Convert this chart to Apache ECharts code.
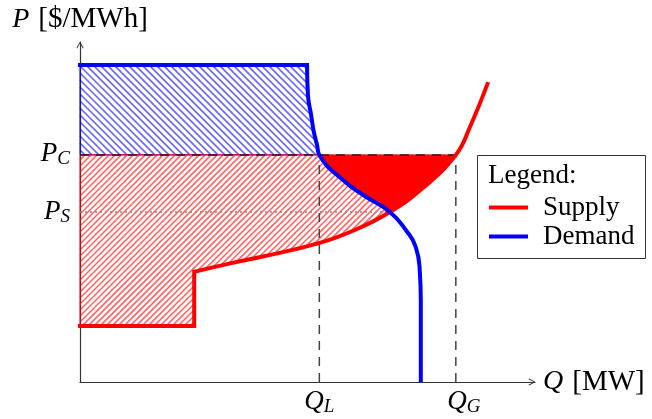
<!DOCTYPE html>
<html><head><meta charset="utf-8">
<script src="https://cdn.jsdelivr.net/npm/echarts@6/dist/echarts.min.js"></script>
<style>html,body{margin:0;padding:0;background:#fff}#c{width:652px;height:419px}</style>
</head><body><div id="c"></div>
<script>
// ---- data (Q in MW units of the plot, P in $/MWh units of the plot) ----
const demandFlatQ = [0, 49.9];
const demandFlatP = [93.2, 93.2];
const demandQ = [49.9, 50.1, 50.8, 51.4, 52.1, 52.6, 57.8, 62.6, 68.1, 71.6, 73.8, 74.7, 74.9, 74.9];
const demandP = [93.2, 84.4, 78.5, 73.5, 69.7, 66.8, 59.4, 54.7, 50.0, 44.7, 39.7, 32.1, 24.1, 0];
const supplyStepQ = [0, 25.1, 25.1];
const supplyStepP = [16.5, 16.5, 32.4];
const supplyQ = [25.1, 33.0, 40.2, 52.7, 60.4, 68.1, 75.4, 82.6, 85.7, 89.7];
const supplyP = [32.4, 34.9, 36.9, 40.9, 44.7, 50.0, 57.1, 66.8, 75.0, 88.2];
const QL = 52.6, QG = 82.6, PC = 66.8, PS = 50.0, QX = 68.1;
const xTickValues = [QL, QG];
const xTickSubs = ['L', 'G'];
const yTickValues = [PS, PC];
const yTickSubs = ['S', 'C'];
const seriesNames = ['Supply', 'Demand'];

const FONT = 'Liberation Serif';
const zip = (q, p) => q.map((v, i) => [v, p[i]]);
const demandPts = zip(demandQ, demandP);
const supplyPts = zip(supplyQ, supplyP);
const supplyStepPts = zip(supplyStepQ, supplyStepP);

const blueRegion = [[0, PC], [demandFlatQ[0], demandFlatP[0]], ...demandPts.filter(d => d[1] >= PC)];
const redHatchRegion = [[0, PC], ...demandPts.filter(d => d[1] <= PC && d[1] >= PS),
  ...supplyPts.filter(d => d[1] <= PS).reverse(), ...supplyStepPts.slice().reverse().slice(1)];
const redSolidRegion = [...demandPts.filter(d => d[1] <= PC && d[1] >= PS),
  ...supplyPts.filter(d => d[1] >= PS && d[1] <= PC)];

// diagonal hatch segments clipped to a polygon given in pixel coordinates
function hatchSegs(poly, spacing, dir) {
  const f = dir === '/' ? (p => p[0] + p[1]) : (p => p[0] - p[1]);
  const vals = poly.map(f);
  const lo = Math.min(...vals), hi = Math.max(...vals);
  const segs = [];
  for (let c = Math.ceil(lo / spacing) * spacing; c <= hi; c += spacing) {
    const xs = [];
    for (let i = 0; i < poly.length; i++) {
      const a = poly[i], b = poly[(i + 1) % poly.length];
      const fa = f(a) - c, fb = f(b) - c;
      if ((fa < 0 && fb >= 0) || (fa >= 0 && fb < 0)) {
        const t = fa / (fa - fb);
        xs.push(a[0] + t * (b[0] - a[0]));
      }
    }
    xs.sort((u, v) => u - v);
    for (let k = 0; k + 1 < xs.length; k += 2) {
      const x1 = xs[k], x2 = xs[k + 1];
      segs.push([x1, dir === '/' ? c - x1 : x1 - c, x2, dir === '/' ? c - x2 : x2 - c]);
    }
  }
  return segs;
}

function regionSeries(pts, color, hatch, z) {
  return {
    type: 'custom', z: z, silent: true, data: [[0, 0]],
    renderItem: (params, api) => {
      const px = pts.map(p => api.coord(p));
      const children = [{ type: 'polygon', shape: { points: px },
        style: { fill: hatch ? 'none' : color, stroke: color, lineWidth: 1 } }];
      if (hatch) {
        hatchSegs(px, hatch.spacing, hatch.dir).forEach(s => children.push({
          type: 'line', shape: { x1: s[0], y1: s[1], x2: s[2], y2: s[3] },
          style: { stroke: hatch.color, lineWidth: hatch.width, fill: null }
        }));
      }
      return { type: 'group', children: children };
    }
  };
}

function guide(pts, color, type, width) {
  return { type: 'line', data: pts, showSymbol: false, silent: true, z: 3,
    lineStyle: { color: color, type: type, width: width } };
}

const arrow = 'path://M5,0 L10,9 L9,10 L5,2.6 L1,10 L0,9 Z';
const rich = {
  i: { fontFamily: FONT, fontStyle: 'italic', fontSize: 27, lineHeight: 28, verticalAlign: 'top', color: '#000' },
  ig: { fontFamily: FONT, fontStyle: 'italic', fontSize: 27, lineHeight: 28, verticalAlign: 'top', color: '#000', padding: [0, 0, 0, 16] },
  s: { fontFamily: FONT, fontStyle: 'italic', fontSize: 19, lineHeight: 18, verticalAlign: 'bottom', color: '#000' },
  t: { fontFamily: FONT, fontSize: 29, color: '#000', padding: [0, 0, 0, 9] },
  n: { fontFamily: FONT, fontStyle: 'italic', fontSize: 28, color: '#000' }
};
const idx = (arr, v) => arr.findIndex(a => Math.abs(a - v) < 1e-6);

const chart = echarts.init(document.getElementById('c'));
chart.setOption({
  animation: false,
  backgroundColor: '#fff',
  grid: { left: 80, right: 117, top: 42, bottom: 37 },
  xAxis: {
    type: 'value', min: 0, max: 100,
    axisLine: { show: true, lineStyle: { color: '#333', width: 1.2 }, symbol: ['none', arrow], symbolSize: [9, 7], symbolOffset: [0, -3] },
    axisTick: { show: false }, splitLine: { show: false },
    axisLabel: {
      customValues: xTickValues, margin: 6, lineHeight: 31, rich: rich,
      formatter: v => { const k = idx(xTickValues, v); return k < 0 ? '' : (k === 1 ? '{ig|Q}' : '{i|Q}') + '{s|' + xTickSubs[k] + '}'; }
    },
    name: '{n|Q}{t|[MW]}', nameLocation: 'end', nameGap: 8,
    nameTextStyle: { rich: rich }
  },
  yAxis: {
    type: 'value', min: 0, max: 100,
    axisLine: { show: true, lineStyle: { color: '#333', width: 1.2 }, symbol: ['none', arrow], symbolSize: [9, 7], symbolOffset: [0, -3] },
    axisTick: { show: false }, splitLine: { show: false },
    axisLabel: {
      customValues: yTickValues, margin: 10, lineHeight: 31, rich: rich,
      formatter: v => { const k = idx(yTickValues, v); return k < 0 ? '' : '{i|P}{s|' + yTickSubs[k] + '}'; }
    },
    name: '{n|P}{t|[$/MWh]}', nameLocation: 'end', nameGap: 8,
    nameTextStyle: { rich: rich }
  },
  legend: {
    data: seriesNames, orient: 'vertical', left: 489, top: 193, padding: 0, itemGap: 0,
    itemWidth: 39, itemHeight: 4, icon: 'rect', selectedMode: false,
    textStyle: { fontFamily: FONT, fontSize: 27, color: '#000', lineHeight: 29, padding: [0, 0, 0, 10] }
  },
  graphic: [
    { type: 'rect', z: 0, shape: { x: 477.5, y: 155.5, width: 168, height: 103 }, style: { fill: '#fff', stroke: '#333', lineWidth: 1 } },
    { type: 'text', z: 10, left: 488, top: 162, style: { text: 'Legend:', font: '27px "Liberation Serif"', fill: '#000' } }
  ],
  series: [
    regionSeries(blueRegion, '#0000ff', { spacing: 7, dir: '\\', color: 'rgba(0,0,255,0.6)', width: 1.6 }, 1),
    regionSeries(redHatchRegion, '#ff0000', { spacing: 6, dir: '/', color: 'rgba(255,0,0,0.6)', width: 1.6 }, 1),
    regionSeries(redSolidRegion, '#ff0000', null, 2),
    guide([[0, PS], [QX, PS]], '#888', [2, 3], 1.5),
    guide([[QL, 0], [QL, PC]], '#444', [9, 7], 1.5),
    guide([[QG, 0], [QG, PC]], '#444', [9, 7], 1.5),
    guide([[0, PC], [QG, PC]], '#222', [9, 7], 1.5),
    { type: 'line', name: 'Supply', data: supplyStepPts, showSymbol: false, z: 5, color: '#ff0000',
      lineStyle: { color: '#ff0000', width: 4, cap: 'square', join: 'miter' } },
    { type: 'line', name: 'Supply', data: supplyPts, smooth: 0.45, showSymbol: false, z: 5, color: '#ff0000',
      lineStyle: { color: '#ff0000', width: 4 } },
    { type: 'line', name: 'Demand', data: zip(demandFlatQ, demandFlatP), showSymbol: false, z: 5, color: '#0000ff',
      lineStyle: { color: '#0000ff', width: 4, cap: 'square' } },
    { type: 'line', name: 'Demand', data: demandPts, smooth: 0.5, showSymbol: false, z: 5, color: '#0000ff',
      lineStyle: { color: '#0000ff', width: 4 } }
  ]
});
</script></body></html>
